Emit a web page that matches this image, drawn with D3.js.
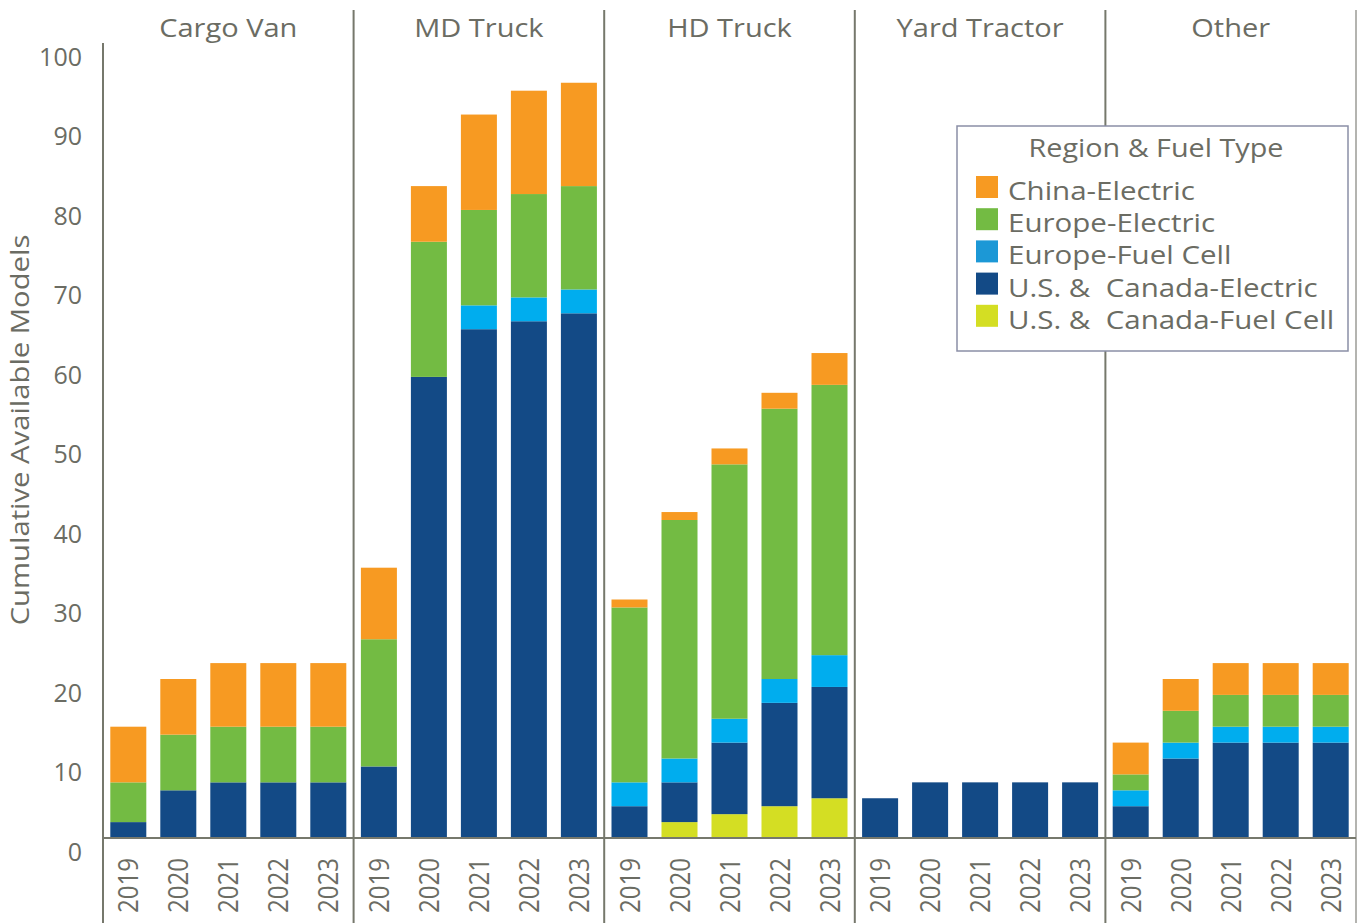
<!DOCTYPE html>
<html>
<head>
<meta charset="utf-8">
<script src="https://cdn.jsdelivr.net/npm/d3@7"></script>
<style>
  html, body { margin: 0; padding: 0; background: #fff; }
  svg text { font-family: "Open Sans", "DejaVu Sans", sans-serif; fill: #6b6c63; white-space: pre; }
</style>
</head>
<body>
<svg id="chart" width="1361" height="923"></svg>
<script>
// ---------- data ----------
const categories = ["Cargo Van", "MD Truck", "HD Truck", "Yard Tractor", "Other"];
const years = ["2019", "2020", "2021", "2022", "2023"];
const yTicks = [0, 10, 20, 30, 40, 50, 60, 70, 80, 90, 100];
const yTitle = "Cumulative Available Models";
const legendTitle = "Region & Fuel Type";

// series (stack order bottom -> top); each row = one category, values per year
const seriesKeys = ["usFuelCell", "usElectric", "euFuelCell", "euElectric", "cnElectric"];
const seriesLabels = ["U.S. &  Canada-Fuel Cell", "U.S. &  Canada-Electric", "Europe-Fuel Cell", "Europe-Electric", "China-Electric"];
const seriesColors = ["#d4de23", "#134a86", "#00adee", "#73bb43", "#f79a22"];

const usFuelCell = [
  [0, 0, 0, 0, 0],
  [0, 0, 0, 0, 0],
  [0, 2, 3, 4, 5],
  [0, 0, 0, 0, 0],
  [0, 0, 0, 0, 0]
];
const usElectric = [
  [2, 6, 7, 7, 7],
  [9, 58, 64, 65, 66],
  [4, 5, 9, 13, 14],
  [5, 7, 7, 7, 7],
  [4, 10, 12, 12, 12]
];
const euFuelCell = [
  [0, 0, 0, 0, 0],
  [0, 0, 3, 3, 3],
  [3, 3, 3, 3, 4],
  [0, 0, 0, 0, 0],
  [2, 2, 2, 2, 2]
];
const euElectric = [
  [5, 7, 7, 7, 7],
  [16, 17, 12, 13, 13],
  [22, 30, 32, 34, 34],
  [0, 0, 0, 0, 0],
  [2, 4, 4, 4, 4]
];
const cnElectric = [
  [7, 7, 8, 8, 8],
  [9, 7, 12, 13, 13],
  [1, 1, 2, 2, 4],
  [0, 0, 0, 0, 0],
  [4, 4, 4, 4, 4]
];

// ---------- build table ----------
const seriesData = { usFuelCell, usElectric, euFuelCell, euElectric, cnElectric };
const rows = [];
categories.forEach((c, ci) => {
  years.forEach((yr, yi) => {
    const r = { cat: c, year: yr };
    seriesKeys.forEach(k => { r[k] = seriesData[k][ci][yi]; });
    rows.push(r);
  });
});
const stacked = d3.stack().keys(seriesKeys)(rows);
const color = d3.scaleOrdinal().domain(seriesKeys).range(seriesColors);
const labelOf = d3.scaleOrdinal().domain(seriesKeys).range(seriesLabels);

// ---------- layout ----------
const svg = d3.select("#chart");
const lineColor = "#76786c";
const plotLeft = 103, plotRight = 1356, plotTop = 43, plotBottom = 838, svgBottom = 923;

const y = d3.scaleLinear().domain([0, 100]).range([plotBottom, plotTop]);
const xPanel = d3.scaleBand().domain(categories).range([plotLeft, plotRight]).padding(0);
const xYear = d3.scaleBand().domain(years).range([0, xPanel.bandwidth()])
  .paddingInner(0.28).paddingOuter(0.146);

function widen(sel, f) {
  sel.each(function () {
    const L = this.getComputedTextLength();
    d3.select(this).attr("textLength", L * f).attr("lengthAdjust", "spacingAndGlyphs");
  });
}

// bars
svg.append("g").selectAll("g").data(stacked).join("g")
  .attr("fill", d => color(d.key))
  .selectAll("rect").data(d => d).join("rect")
  .attr("x", d => xPanel(d.data.cat) + xYear(d.data.year))
  .attr("width", xYear.bandwidth())
  .attr("y", d => y(d[1]))
  .attr("height", d => y(d[0]) - y(d[1]));

// grid / frame lines
const lines = svg.append("g").attr("stroke", lineColor).attr("stroke-width", 2);
lines.append("line").attr("x1", plotLeft).attr("x2", plotLeft).attr("y1", plotTop).attr("y2", svgBottom);
categories.slice(1).forEach(c => {
  lines.append("line").attr("x1", xPanel(c)).attr("x2", xPanel(c)).attr("y1", 10).attr("y2", svgBottom);
});
lines.append("line").attr("x1", plotRight).attr("x2", plotRight).attr("y1", 10).attr("y2", svgBottom)
  .attr("stroke", "#b4b4b0");
lines.append("line").attr("x1", plotLeft).attr("x2", plotRight).attr("y1", plotBottom).attr("y2", plotBottom);

// y axis
const yAxis = svg.append("g").attr("transform", `translate(${plotLeft},0)`)
  .call(d3.axisLeft(y).tickValues(yTicks).tickSize(0).tickPadding(21));
yAxis.select(".domain").remove();
yAxis.selectAll("text").attr("y", 14).style("font-size", "25px").attr("fill", null);

// y title
svg.append("text")
  .attr("transform", `translate(29,430) rotate(-90)`)
  .attr("text-anchor", "middle")
  .style("font-size", "25px")
  .text(yTitle)
  .call(widen, 1.17);

// panel headers
svg.append("g").selectAll("text").data(categories).join("text")
  .attr("x", d => xPanel(d) + xPanel.bandwidth() / 2)
  .attr("y", 37)
  .attr("text-anchor", "middle")
  .style("font-size", "25px")
  .text(d => d)
  .call(widen, 1.16);

// year labels
const yearG = svg.append("g");
categories.forEach(c => {
  yearG.selectAll(null).data(years).join("text")
    .attr("transform", d => `translate(${xPanel(c) + xYear(d) + xYear.bandwidth() / 2 + 10},858) rotate(-90)`)
    .attr("text-anchor", "end")
    .style("font-size", "28px")
    .text(d => d)
    .call(widen, 0.86);
});

// legend
const lg = svg.append("g").attr("transform", "translate(957,126)");
lg.append("rect").attr("width", 391).attr("height", 225)
  .attr("fill", "#fff").attr("stroke", "#8a8fa6").attr("stroke-width", 1.5);
lg.append("text").attr("x", 199).attr("y", 31).attr("text-anchor", "middle")
  .style("font-size", "25px").text(legendTitle).call(widen, 1.15);
const legendKeys = seriesKeys.slice().reverse();
const item = lg.selectAll("g.item").data(legendKeys).join("g").attr("class", "item")
  .attr("transform", (d, i) => `translate(19,${50 + i * 32.2})`);
item.append("rect").attr("width", 22).attr("height", 22).attr("fill", d => d === "euFuelCell" ? "#1c98d6" : color(d));
item.append("text").attr("x", 32).attr("y", 24).style("font-size", "25px")
  .text(d => labelOf(d)).call(widen, 1.18);
</script>
</body>
</html>
